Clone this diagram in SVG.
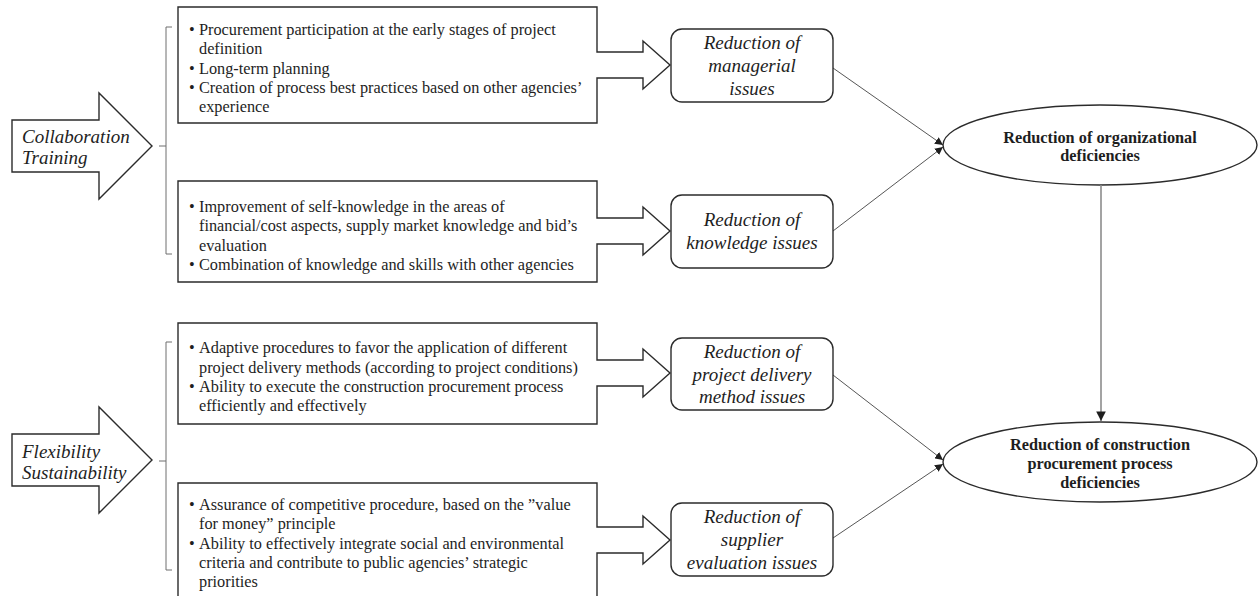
<svg xmlns="http://www.w3.org/2000/svg" width="1258" height="596" viewBox="0 0 1258 596">
<style>
.shape{fill:#fff;stroke:#2b2b2b;stroke-width:1.4}
.br{fill:none;stroke:#6e6e6e;stroke-width:1}
.bt{font-family:"Liberation Serif","Times New Roman",serif;font-size:16.3px;fill:#1e1e1e}
.it{font-family:"Liberation Serif","Times New Roman",serif;font-size:19px;font-style:italic;fill:#1e1e1e}
.bd{font-family:"Liberation Serif","Times New Roman",serif;font-size:16.3px;font-weight:bold;fill:#1e1e1e}
.ln{stroke:#2b2b2b;stroke-width:0.8;fill:none}
.vl{stroke:#8c8c8c;stroke-width:1.6;fill:none}
</style>
<defs>
<marker id="ah" viewBox="0 0 10 10" refX="10" refY="5" markerWidth="8" markerHeight="8" markerUnits="userSpaceOnUse" orient="auto">
<path d="M0,0 L10,5 L0,10 Z" fill="#1e1e1e"/>
</marker>
<marker id="ahv" viewBox="0 0 10 10" refX="10" refY="5" markerWidth="6" markerHeight="6" markerUnits="strokeWidth" orient="auto">
<path d="M0,0 L10,5 L0,10 Z" fill="#1e1e1e"/>
</marker>
</defs>

<g id="driver-collab">
<path class="shape" d="M12,120 H99 V93 L152,146 L99,199 V172 H12 Z"/>
<text class="it" x="22" y="143">Collaboration</text>
<text class="it" x="22" y="164">Training</text>
<path class="br" d="M172,27 H166 V254 H172 M166,146 H159"/>
</g>

<g id="driver-flex">
<path class="shape" d="M12,434 H99 V407 L152,460 L99,513 V486 H12 Z"/>
<text class="it" x="22" y="458">Flexibility</text>
<text class="it" x="22" y="479">Sustainability</text>
<path class="br" d="M172,342 H166 V570 H172 M166,461 H159"/>
</g>

<g id="box-managerial">
<path class="shape" d="M178,7 H597 V52 H643 V41 L670,65 L643,89 V78 H597 V123 H178 Z"/>
<g class="bt">
<text x="189" y="35">•</text><text x="199" y="35">Procurement participation at the early stages of project</text>
<text x="199" y="54">definition</text>
<text x="189" y="74">•</text><text x="199" y="74">Long-term planning</text>
<text x="189" y="93">•</text><text x="199" y="93">Creation of process best practices based on other agencies’</text>
<text x="199" y="112">experience</text>
</g>
</g>

<g id="box-knowledge">
<path class="shape" d="M178,181 H597 V218 H643 V207 L670,231 L643,255 V244 H597 V282 H178 Z"/>
<g class="bt">
<text x="189" y="212">•</text><text x="199" y="212">Improvement of self-knowledge in the areas of</text>
<text x="199" y="231">financial/cost aspects, supply market knowledge and bid’s</text>
<text x="199" y="251">evaluation</text>
<text x="189" y="270">•</text><text x="199" y="270">Combination of knowledge and skills with other agencies</text>
</g>
</g>

<g id="box-delivery">
<path class="shape" d="M178,323 H597 V360 H643 V349 L670,373 L643,397 V386 H597 V424 H178 Z"/>
<g class="bt">
<text x="189" y="353">•</text><text x="199" y="353">Adaptive procedures to favor the application of different</text>
<text x="199" y="373">project delivery methods (according to project conditions)</text>
<text x="189" y="392">•</text><text x="199" y="392">Ability to execute the construction procurement process</text>
<text x="199" y="411">efficiently and effectively</text>
</g>
</g>

<g id="box-supplier">
<path class="shape" d="M178,483 H597 V527 H643 V516 L670,540 L643,564 V553 H597 V602 H178 Z"/>
<g class="bt">
<text x="189" y="510">•</text><text x="199" y="510">Assurance of competitive procedure, based on the ”value</text>
<text x="199" y="529">for money” principle</text>
<text x="189" y="549">•</text><text x="199" y="549">Ability to effectively integrate social and environmental</text>
<text x="199" y="568">criteria and contribute to public agencies’ strategic</text>
<text x="199" y="587">priorities</text>
</g>
</g>

<g id="node-managerial">
<rect class="shape" x="671" y="29" width="162" height="73" rx="11"/>
<g class="it" text-anchor="middle">
<text x="752" y="49">Reduction of</text>
<text x="752" y="72">managerial</text>
<text x="752" y="95">issues</text>
</g>
</g>

<g id="node-knowledge">
<rect class="shape" x="671" y="195" width="162" height="73" rx="11"/>
<g class="it" text-anchor="middle">
<text x="752" y="226">Reduction of</text>
<text x="752" y="249">knowledge issues</text>
</g>
</g>

<g id="node-delivery">
<rect class="shape" x="671" y="338" width="162" height="72" rx="11"/>
<g class="it" text-anchor="middle">
<text x="752" y="358">Reduction of</text>
<text x="752" y="381">project delivery</text>
<text x="752" y="403">method issues</text>
</g>
</g>

<g id="node-supplier">
<rect class="shape" x="671" y="503" width="162" height="73" rx="11"/>
<g class="it" text-anchor="middle">
<text x="752" y="523">Reduction of</text>
<text x="752" y="546">supplier</text>
<text x="752" y="569">evaluation issues</text>
</g>
</g>

<g id="node-org">
<ellipse class="shape" cx="1100" cy="145" rx="157" ry="40"/>
<g class="bd" text-anchor="middle">
<text x="1100" y="143">Reduction of organizational</text>
<text x="1100" y="161">deficiencies</text>
</g>
</g>

<g id="node-process">
<ellipse class="shape" cx="1100" cy="462" rx="157" ry="40"/>
<g class="bd" text-anchor="middle">
<text x="1100" y="450">Reduction of construction</text>
<text x="1100" y="469">procurement process</text>
<text x="1100" y="488">deficiencies</text>
</g>
</g>

<g id="connectors">
<line class="ln" x1="833" y1="68" x2="943" y2="145" marker-end="url(#ah)"/>
<line class="ln" x1="833" y1="231" x2="943" y2="147" marker-end="url(#ah)"/>
<line class="ln" x1="833" y1="375" x2="943" y2="460" marker-end="url(#ah)"/>
<line class="ln" x1="833" y1="538" x2="943" y2="464" marker-end="url(#ah)"/>
<line class="vl" x1="1101" y1="185" x2="1101" y2="421" marker-end="url(#ahv)"/>
</g>
</svg>
